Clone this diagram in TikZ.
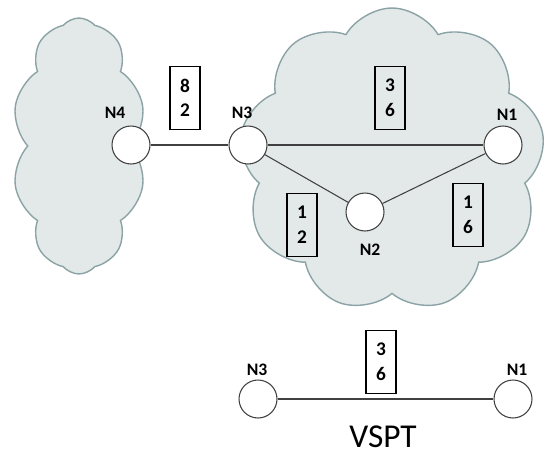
\documentclass[tikz,border=0pt]{standalone}
\usepackage{fontspec}
\setmainfont{Carlito}
\usetikzlibrary{shapes.symbols,positioning}
\definecolor{cloudfill}{HTML}{E3E9E9}
\definecolor{cloudline}{HTML}{8CA3A6}
\definecolor{wire}{HTML}{404040}

\begin{document}
\begin{tikzpicture}[x=0.02cm,y=-0.02cm,
    netcloud/.style={cloud,cloud ignores aspect,draw=cloudline,fill=cloudfill,line width=0.8pt,inner sep=0pt},
    router/.style={circle,draw=wire,fill=white,line width=0.6pt,minimum size=0.76cm,inner sep=0pt},
    tag/.style={font=\bfseries\fontsize{10}{10}\selectfont},
    cost/.style={rectangle,draw=black,line width=0.6pt,minimum width=0.6cm,minimum height=1.26cm,align=center,font=\bfseries\fontsize{11}{14}\selectfont},
    link/.style={draw=wire,line width=0.6pt}]
  \useasboundingbox (0,0) rectangle (546,456);

  % domains
  \node[netcloud,cloud puffs=10,cloud puff arc=100,minimum width=2.68cm,minimum height=5.12cm] (leftdom) at (79,146) {};
  \node[netcloud,cloud puffs=9,cloud puff arc=120,minimum width=6.12cm,minimum height=6.08cm] (rightdom) at (392,160) {};

  % routers
  \node[router] (n4) at (131,145) {};
  \node[router] (n3) at (248,145) {};
  \node[router] (n1) at (503,145) {};
  \node[router] (n2) at (365,212) {};
  \node[tag] (t4) at (115,113) {N4};
  \node[tag] (t3) at (242,113) {N3};
  \node[tag] (t1) at (507,115) {N1};
  \node[tag] (t2) at (370,250) {N2};

  % links
  \draw[link] (n4) -- (n3);
  \draw[link] (n3) -- (n1);
  \draw[link] (n3) -- (n2);
  \draw[link] (n2) -- (n1);

  % link costs
  \node[cost] (c43) at (185,98) {8\\2};
  \node[cost] (c31) at (390,98) {3\\6};
  \node[cost] (c32) at (302,225) {1\\2};
  \node[cost] (c21) at (468,215) {1\\6};

  % vspt
  \node[router] (v3) at (258,399) {};
  \node[router] (v1) at (513,399) {};
  \node[tag] (vt3) at (257,370) {N3};
  \node[tag] (vt1) at (517,370) {N1};
  \draw[link] (v3) -- (v1);
  \node[cost] (vc31) at (381,362) {3\\6};
  \node[font=\fontsize{19}{19}\selectfont] (vspt) at (383,437) {VSPT};

\end{tikzpicture}
\end{document}
